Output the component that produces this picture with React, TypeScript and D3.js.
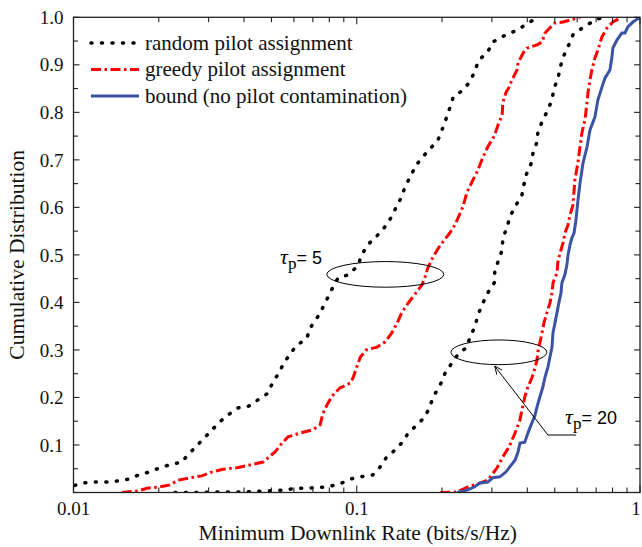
import * as d3 from 'd3'

const W = 642
const H = 547

// [rate (bits/s/Hz), cumulative distribution]
const random5: [number, number][] = [
  [0.0101, 0.015], [0.0108, 0.02], [0.0119, 0.022], [0.0131, 0.022], [0.0142, 0.024], [0.0156, 0.028],
  [0.017, 0.037], [0.0185, 0.043], [0.0202, 0.052], [0.0223, 0.06], [0.0242, 0.064], [0.0254, 0.081],
  [0.0271, 0.096], [0.0287, 0.113], [0.0306, 0.129], [0.0324, 0.146], [0.0351, 0.163], [0.0381, 0.178],
  [0.0416, 0.182], [0.0448, 0.195], [0.0486, 0.209], [0.0506, 0.233], [0.0531, 0.251], [0.0553, 0.273],
  [0.061, 0.308], [0.0667, 0.325], [0.0684, 0.346], [0.0724, 0.367], [0.076, 0.39], [0.0791, 0.411],
  [0.0824, 0.432], [0.0858, 0.451], [0.0931, 0.458], [0.101, 0.477], [0.104, 0.5], [0.11, 0.523],
  [0.117, 0.538], [0.125, 0.557], [0.132, 0.578], [0.138, 0.601], [0.144, 0.622], [0.148, 0.643],
  [0.155, 0.666], [0.162, 0.689], [0.171, 0.706], [0.181, 0.723], [0.193, 0.74], [0.2, 0.763],
  [0.206, 0.784], [0.213, 0.809], [0.219, 0.832], [0.235, 0.845], [0.251, 0.864], [0.261, 0.887],
  [0.27, 0.91], [0.29, 0.927], [0.302, 0.948], [0.331, 0.961], [0.362, 0.971], [0.389, 0.982],
  [0.419, 0.994], [0.425, 1.0],
]

const greedy5: [number, number][] = [
  [0.0148, 0.0], [0.0168, 0.003], [0.0182, 0.009], [0.0202, 0.012], [0.0219, 0.016], [0.0234, 0.026],
  [0.0258, 0.031], [0.0284, 0.035], [0.0308, 0.043], [0.0337, 0.049], [0.0378, 0.052], [0.042, 0.058],
  [0.0467, 0.064], [0.0486, 0.073], [0.0514, 0.085], [0.0545, 0.104], [0.0572, 0.117], [0.063, 0.125],
  [0.0701, 0.132], [0.0742, 0.142], [0.076, 0.167], [0.0791, 0.188], [0.0824, 0.205], [0.0872, 0.22],
  [0.0946, 0.23], [0.097, 0.241], [0.1, 0.264], [0.103, 0.285], [0.108, 0.3], [0.118, 0.306],
  [0.126, 0.317], [0.133, 0.336], [0.139, 0.357], [0.144, 0.378], [0.152, 0.399], [0.16, 0.416],
  [0.17, 0.437], [0.174, 0.453], [0.178, 0.472], [0.185, 0.493], [0.193, 0.512], [0.2, 0.525],
  [0.213, 0.546], [0.222, 0.563], [0.231, 0.586], [0.237, 0.601], [0.245, 0.632], [0.255, 0.653],
  [0.268, 0.679], [0.279, 0.706], [0.29, 0.727], [0.307, 0.752], [0.315, 0.773], [0.326, 0.794],
  [0.328, 0.82], [0.336, 0.841], [0.345, 0.853], [0.353, 0.868], [0.368, 0.889], [0.371, 0.904],
  [0.387, 0.925], [0.399, 0.935], [0.433, 0.942], [0.451, 0.948], [0.462, 0.967], [0.481, 0.978],
  [0.501, 0.988], [0.535, 0.99], [0.58, 0.996], [0.614, 1.0],
]

const random20: [number, number][] = [
  [0.0228, 0.0], [0.0275, 0.0], [0.0329, 0.001], [0.0393, 0.001], [0.0463, 0.003], [0.0558, 0.005],
  [0.0605, 0.009], [0.0667, 0.009], [0.0791, 0.012], [0.0872, 0.018], [0.0946, 0.028], [0.103, 0.033],
  [0.114, 0.037], [0.121, 0.054], [0.127, 0.073], [0.134, 0.085], [0.144, 0.104], [0.152, 0.125],
  [0.163, 0.142], [0.174, 0.159], [0.181, 0.18], [0.186, 0.201], [0.197, 0.226], [0.205, 0.251],
  [0.217, 0.273], [0.228, 0.291], [0.245, 0.306], [0.251, 0.327], [0.261, 0.348], [0.268, 0.374],
  [0.279, 0.399], [0.29, 0.42], [0.307, 0.443], [0.307, 0.464], [0.315, 0.485], [0.326, 0.51],
  [0.328, 0.536], [0.339, 0.557], [0.347, 0.58], [0.362, 0.601], [0.383, 0.626], [0.389, 0.647],
  [0.396, 0.668], [0.412, 0.691], [0.419, 0.714], [0.433, 0.738], [0.436, 0.759], [0.451, 0.78],
  [0.469, 0.801], [0.489, 0.826], [0.497, 0.851], [0.513, 0.87], [0.522, 0.893], [0.535, 0.916],
  [0.557, 0.938], [0.58, 0.963], [0.624, 0.977], [0.676, 0.99], [0.722, 0.998],
]

const greedy20: [number, number][] = [
  [0.197, 0.0], [0.226, 0.001], [0.247, 0.012], [0.268, 0.018], [0.29, 0.026], [0.313, 0.052],
  [0.328, 0.075], [0.345, 0.096], [0.362, 0.125], [0.377, 0.153], [0.383, 0.174], [0.392, 0.201],
  [0.402, 0.222], [0.415, 0.241], [0.426, 0.262], [0.433, 0.279], [0.436, 0.296], [0.443, 0.315],
  [0.451, 0.336], [0.458, 0.357], [0.469, 0.378], [0.481, 0.399], [0.489, 0.42], [0.493, 0.441],
  [0.509, 0.462], [0.513, 0.485], [0.522, 0.504], [0.535, 0.525], [0.543, 0.546], [0.557, 0.563],
  [0.566, 0.584], [0.58, 0.605], [0.589, 0.658], [0.604, 0.695], [0.614, 0.727], [0.624, 0.757],
  [0.639, 0.784], [0.65, 0.82], [0.655, 0.841], [0.666, 0.868], [0.676, 0.889], [0.693, 0.914],
  [0.71, 0.931], [0.734, 0.959], [0.764, 0.977], [0.802, 0.99], [0.849, 0.998],
]

const bound: [number, number][] = [
  [0.226, 0.0], [0.245, 0.005], [0.261, 0.012], [0.272, 0.02], [0.29, 0.022], [0.302, 0.031],
  [0.32, 0.033], [0.336, 0.043], [0.347, 0.054], [0.362, 0.068], [0.371, 0.085], [0.377, 0.104],
  [0.392, 0.106], [0.402, 0.125], [0.415, 0.146], [0.426, 0.163], [0.433, 0.18], [0.443, 0.201],
  [0.454, 0.222], [0.462, 0.243], [0.473, 0.264], [0.481, 0.285], [0.489, 0.306], [0.493, 0.336],
  [0.501, 0.357], [0.509, 0.378], [0.517, 0.399], [0.526, 0.42], [0.53, 0.441], [0.543, 0.458],
  [0.552, 0.479], [0.557, 0.5], [0.566, 0.521], [0.575, 0.536], [0.585, 0.546], [0.594, 0.573],
  [0.604, 0.615], [0.614, 0.651], [0.629, 0.693], [0.65, 0.727], [0.666, 0.763], [0.693, 0.79],
  [0.71, 0.826], [0.734, 0.853], [0.752, 0.872], [0.783, 0.889], [0.796, 0.916], [0.802, 0.935],
  [0.829, 0.952], [0.863, 0.967], [0.885, 0.967], [0.906, 0.98], [0.944, 0.99], [1.0, 1.0],
]

const legendLabels = ['random pilot assignment', 'greedy pilot assignment', 'bound (no pilot contamination)']
const xTickLabels = [0.01, 0.1, 1]
const yTickLabels = [0.1, 0.2, 0.3, 0.4, 0.5, 0.6, 0.7, 0.8, 0.9, 1.0]

// annotation ellipses, in data units: [xLeft, xRight, yCenter, yHalf]
const ellipse5 = [0.0784, 0.203, 0.459, 0.027]
const ellipse20 = [0.215, 0.469, 0.295, 0.026]
// leader line for tau_p = 20: label end -> elbow -> arrow tip
const arrow20: [number, number][] = [[0.595, 0.121], [0.473, 0.121], [0.307, 0.266]]

const SERIF = "'Liberation Serif', 'Times New Roman', serif"
const SANS = "'Liberation Sans', Arial, sans-serif"

const styles = {
  random: { stroke: '#000', strokeWidth: 3.5, strokeDasharray: '1 9.5', strokeLinecap: 'round' as const },
  greedy: { stroke: '#ff0000', strokeWidth: 3, strokeDasharray: '10 3.5 2.5 3.5' },
  bound: { stroke: '#3a53a5', strokeWidth: 3 },
}

export default function App() {
  const x = d3.scaleLog().domain([0.01, 1]).range([73.5, 640])
  const y = d3.scaleLinear().domain([0, 1]).range([492.5, 17.3])
  const line = d3.line<[number, number]>().x((d) => x(d[0])).y((d) => y(d[1]))

  const [x0, x1] = x.range()
  const [y0, y1] = y.range()
  const axis = '#222'

  const xTicks = x.ticks()
  const yTicks = d3.range(0, 21).map((i) => i * 0.05)

  const ell = (e: number[]) => {
    const l = x(e[0])
    const r = x(e[1])
    return { cx: (l + r) / 2, cy: y(e[2]), rx: (r - l) / 2, ry: y(0) - y(e[3]) }
  }
  const e5 = ell(ellipse5)
  const e20 = ell(ellipse20)

  const legendRows = [styles.random, styles.greedy, styles.bound]

  return (
    <svg width={W} height={H} style={{ position: 'absolute', left: 0, top: 0, background: '#fff' }}>
      <defs>
        <clipPath id="plot">
          <rect x={x0} y={y1} width={x1 - x0} height={y0 - y1} />
        </clipPath>
        <marker id="arr" viewBox="0 0 10 10" refX="9" refY="5" markerWidth="9" markerHeight="9" orient="auto">
          <path d="M0,1 L9,5 L0,9" fill="none" stroke="#000" strokeWidth="1" />
        </marker>
      </defs>

      <g clipPath="url(#plot)" fill="none">
        <path d={line(random5)!} {...styles.random} />
        <path d={line(random20)!} {...styles.random} />
        <path d={line(greedy5)!} {...styles.greedy} />
        <path d={line(greedy20)!} {...styles.greedy} />
        <path d={line(bound)!} {...styles.bound} />
      </g>

      {/* frame + ticks */}
      <rect x={x0} y={y1} width={x1 - x0} height={y0 - y1} fill="none" stroke={axis} strokeWidth={1.3} />
      {xTicks.map((t, i) => {
        const major = xTickLabels.includes(+t.toPrecision(3))
        const len = major ? 7 : 5
        return (
          <g key={'xt' + i} stroke={axis} strokeWidth={1.1}>
            <line x1={x(t)} x2={x(t)} y1={y0} y2={y0 - len} />
            <line x1={x(t)} x2={x(t)} y1={y1} y2={y1 + len} />
          </g>
        )
      })}
      {yTicks.map((t, i) => {
        const len = i % 2 === 0 ? 6 : 4.5
        return (
          <g key={'yt' + i} stroke={axis} strokeWidth={1.1}>
            <line x1={x0} x2={x0 + len} y1={y(t)} y2={y(t)} />
            <line x1={x1} x2={x1 - len} y1={y(t)} y2={y(t)} />
          </g>
        )
      })}

      <g fontFamily={SERIF} fontSize={19} fill="#111">
        {yTickLabels.map((t) => (
          <text key={'yl' + t} x={x0 - 10} y={y(t)} dy="0.35em" textAnchor="end">
            {d3.format('.1f')(t)}
          </text>
        ))}
        {xTickLabels.map((t) => (
          <text key={'xl' + t} x={t === 1 ? x(t) - 4 : x(t)} y={y0 + 22} textAnchor="middle">
            {String(t)}
          </text>
        ))}
        <text x={(x0 + x1) / 2 + 1} y={540} textAnchor="middle" fontSize={21.5}>
          Minimum Downlink Rate (bits/s/Hz)
        </text>
        <text transform={`translate(24,${(y0 + y1) / 2}) rotate(-90)`} textAnchor="middle" fontSize={21.5}>
          Cumulative Distribution
        </text>
      </g>

      {/* legend */}
      <g fontFamily={SERIF} fontSize={21} fill="#111">
        {legendLabels.map((lab, i) => {
          const ly = 43 + i * 26.5
          return (
            <g key={lab}>
              <line x1={91} x2={139} y1={ly} y2={ly} {...legendRows[i]} />
              <text x={145} y={ly} dy="0.33em">
                {lab}
              </text>
            </g>
          )
        })}
      </g>

      {/* annotations */}
      <g fill="none" stroke="#000" strokeWidth={1}>
        <ellipse {...e5} />
        <ellipse {...e20} />
        <path d={d3.line()(arrow20.map((p) => [x(p[0]), y(p[1])]))!} markerEnd="url(#arr)" />
      </g>
      <text x={280} y={264} fill="#000">
        <tspan fontFamily={SERIF} fontStyle="italic" fontSize={22}>τ</tspan>
        <tspan fontFamily={SERIF} fontSize={17} dy={5}>p</tspan>
        <tspan fontFamily={SANS} fontSize={18} dy={-5}>= 5</tspan>
      </text>
      <text x={565} y={424} fill="#000">
        <tspan fontFamily={SERIF} fontStyle="italic" fontSize={22}>τ</tspan>
        <tspan fontFamily={SERIF} fontSize={17} dy={5}>p</tspan>
        <tspan fontFamily={SANS} fontSize={18} dy={-5}>= 20</tspan>
      </text>
    </svg>
  )
}
